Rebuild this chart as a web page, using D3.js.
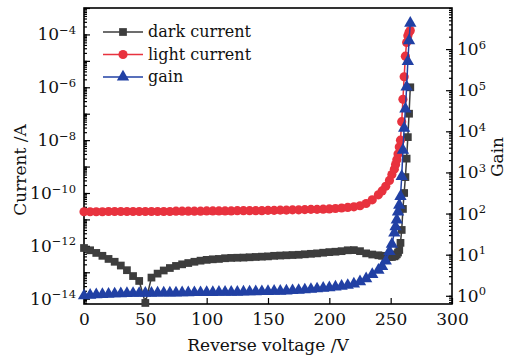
<!DOCTYPE html>
<html>
<head>
<meta charset="utf-8">
<script src="https://cdn.jsdelivr.net/npm/d3@7"></script>
<style>
  body { margin: 0; background: #fff; }
  svg { display: block; font-family: "DejaVu Serif", serif; }
</style>
</head>
<body>
<div id="my_dataviz"></div>
<script>
// reverse voltage (V)
var voltage = [0, 5, 10, 15, 20, 25, 30, 35, 40, 45,
  50, 55, 60, 65, 70, 75, 80, 85, 90, 95,
  100, 105, 110, 115, 120, 125, 130, 135, 140, 145,
  150, 155, 160, 165, 170, 175, 180, 185, 190, 195,
  200, 205, 210, 215, 220, 225, 230, 235, 240,
  243, 246, 249, 251, 253, 254, 255, 256, 257, 258, 259, 260, 261, 262, 263, 264, 265, 266];

// dark current (A)
var darkCurrent = [8.3e-13, 6.8e-13, 5.4e-13, 4.2e-13, 3.2e-13, 2.5e-13, 1.8e-13, 1.2e-13, 7.2e-14, 4.7e-14,
  6.9e-15, 6.3e-14, 8.9e-14, 1.17e-13, 1.45e-13, 1.74e-13, 2.0e-13, 2.24e-13, 2.5e-13, 2.75e-13,
  2.95e-13, 3.1e-13, 3.2e-13, 3.4e-13, 3.5e-13, 3.55e-13, 3.6e-13, 3.7e-13, 3.8e-13, 3.9e-13,
  4.0e-13, 4.2e-13, 4.3e-13, 4.4e-13, 4.5e-13, 4.6e-13, 4.8e-13, 5.0e-13, 5.2e-13, 5.5e-13,
  5.8e-13, 6.0e-13, 6.3e-13, 6.8e-13, 6.9e-13, 6.3e-13, 5.2e-13, 4.7e-13, 4.4e-13,
  4.2e-13, 3.9e-13, 3.8e-13, 3.8e-13, 4.0e-13, 4.3e-13, 4.8e-13, 5.6e-13, 7.0e-13, 1.3e-12, 4.0e-12,
  2.5e-11, 1.0e-10, 4.0e-10, 2.0e-9, 1.3e-8, 1.0e-7, 1.0e-6];

// light current (A)
var lightCurrent = [1.95e-11, 1.95e-11, 1.95e-11, 1.95e-11, 2.0e-11, 2.0e-11, 2.0e-11, 2.0e-11, 2.0e-11, 2.0e-11,
  2.0e-11, 2.0e-11, 2.0e-11, 2.0e-11, 2.0e-11, 2.05e-11, 2.05e-11, 2.05e-11, 2.05e-11, 2.05e-11,
  2.1e-11, 2.1e-11, 2.1e-11, 2.1e-11, 2.1e-11, 2.15e-11, 2.15e-11, 2.15e-11, 2.15e-11, 2.15e-11,
  2.2e-11, 2.2e-11, 2.25e-11, 2.25e-11, 2.3e-11, 2.3e-11, 2.35e-11, 2.4e-11, 2.4e-11, 2.45e-11,
  2.5e-11, 2.6e-11, 2.7e-11, 2.85e-11, 3.0e-11, 3.3e-11, 4.0e-11, 5.5e-11, 8.5e-11,
  1.2e-10, 1.8e-10, 3.0e-10, 5.0e-10, 8.0e-10, 1.2e-9, 1.8e-9, 3.0e-9, 5.5e-9, 1.0e-8, 5.0e-8,
  3.5e-7, 2.5e-6, 1.5e-5, 5.0e-5, 9.0e-5, 1.2e-4, 1.4e-4];

// gain
var gain = [1.0, 1.03, 1.06, 1.08, 1.1, 1.12, 1.13, 1.14, 1.15, 1.15,
  1.16, 1.16, 1.17, 1.17, 1.18, 1.18, 1.19, 1.19, 1.2, 1.2,
  1.21, 1.21, 1.22, 1.22, 1.23, 1.23, 1.24, 1.25, 1.26, 1.27,
  1.28, 1.29, 1.3, 1.32, 1.34, 1.36, 1.4, 1.44, 1.48, 1.53,
  1.58, 1.65, 1.72, 1.8, 1.95, 2.2, 2.6, 3.3, 4.2,
  5.2, 7.0, 12, 18, 34, 48, 70, 110, 160, 260, 800,
  3.5e3, 1.2e4, 3.5e4, 1.2e5, 5.0e5, 1.6e6, 4.3e6];

var xTicks = [0, 50, 100, 150, 200, 250, 300];
var leftLabelExp = [-14, -12, -10, -8, -6, -4];
var rightLabelExp = [0, 1, 2, 3, 4, 5, 6];
var legendLabels = ["dark current", "light current", "gain"];

var W = 509, H = 359;
var margin = {top: 8, right: 57, bottom: 55, left: 84};
var x0 = margin.left, x1 = W - margin.right, y0 = H - margin.bottom, y1 = margin.top;

var svg = d3.select("#my_dataviz")
  .append("svg")
  .attr("width", W)
  .attr("height", H);

var x = d3.scaleLinear().domain([0, 300]).range([x0, x1]);
var yL = d3.scaleLog().domain([Math.pow(10, -14.2), 1e-3]).range([y0, y1]);
var yR = d3.scaleLog().domain([Math.pow(10, -0.2), 1e7]).range([y0, y1]);

// superscript labels 10^n
function powLabel(sel, labelExp) {
  sel.selectAll(".tick text").each(function(d) {
    var e = Math.round(Math.log10(d));
    var t = d3.select(this).text("");
    if (labelExp.indexOf(e) < 0) return;
    t.append("tspan").text("10");
    t.append("tspan").attr("dy", "-0.55em").attr("font-size", "11.5px")
      .text(e < 0 ? "\u2212" + (-e) : e);
  });
}

function styleAxis(g) {
  g.attr("font-family", null).attr("font-size", "17px");
  g.select(".domain").remove();
  g.selectAll(".tick line").attr("stroke", "#000").attr("stroke-width", 1.2);
  g.selectAll(".tick text").attr("fill", "#111");
}

// left axis: minor + major ticks pointing inward
svg.append("g").attr("transform", "translate(" + x0 + ",0)")
  .call(d3.axisLeft(yL).tickValues(yL.ticks(20)).tickSize(-3).tickFormat(""))
  .call(styleAxis);
var leftMajor = d3.range(-14, -2).map(function(e) { return Math.pow(10, e); });
svg.append("g").attr("transform", "translate(" + x0 + ",0)")
  .call(d3.axisLeft(yL).tickValues(leftMajor).tickSize(-6).tickPadding(8))
  .call(styleAxis)
  .call(powLabel, leftLabelExp);

// right axis
svg.append("g").attr("transform", "translate(" + x1 + ",0)")
  .call(d3.axisRight(yR).tickValues(yR.ticks()).tickSize(-3).tickFormat(""))
  .call(styleAxis);
var rightMajor = rightLabelExp.map(function(e) { return Math.pow(10, e); });
svg.append("g").attr("transform", "translate(" + x1 + ",0)")
  .call(d3.axisRight(yR).tickValues(rightMajor).tickSize(-6).tickPadding(5))
  .call(styleAxis)
  .call(powLabel, rightLabelExp);

// bottom axis
svg.append("g").attr("transform", "translate(0," + y0 + ")")
  .call(d3.axisBottom(x).tickValues(xTicks).tickSize(-6).tickPadding(9))
  .call(styleAxis);

// frame
svg.append("rect")
  .attr("x", x0).attr("y", y1)
  .attr("width", x1 - x0).attr("height", y0 - y1)
  .attr("fill", "none").attr("stroke", "#000").attr("stroke-width", 1.6);

// axis titles
svg.append("text")
  .attr("text-anchor", "middle")
  .attr("x", 268)
  .attr("y", 351)
  .attr("font-size", "17px")
  .attr("fill", "#111")
  .text("Reverse voltage /V");

svg.append("text")
  .attr("text-anchor", "middle")
  .attr("transform", "translate(26,170) rotate(-90)")
  .attr("font-size", "17px")
  .attr("fill", "#111")
  .text("Current /A");

svg.append("text")
  .attr("text-anchor", "middle")
  .attr("transform", "translate(503,157) rotate(-90)")
  .attr("font-size", "17px")
  .attr("fill", "#111")
  .text("Gain");

// series
var series = [
  {name: legendLabels[0], vals: darkCurrent, y: yL, color: "#3d3d3d", sym: d3.symbolSquare, size: 60},
  {name: legendLabels[1], vals: lightCurrent, y: yL, color: "#e8323e", sym: d3.symbolCircle, size: 66},
  {name: legendLabels[2], vals: gain, y: yR, color: "#2140a4", sym: d3.symbolTriangle, size: 66}
];

series.forEach(function(s) {
  var pts = voltage.map(function(v, i) { return [v, s.vals[i]]; });
  var line = d3.line()
    .x(function(d) { return x(d[0]); })
    .y(function(d) { return s.y(d[1]); });
  svg.append("path")
    .datum(pts)
    .attr("d", line)
    .attr("fill", "none")
    .attr("stroke", s.color)
    .attr("stroke-width", 1.5);
  svg.append("g")
    .selectAll("path")
    .data(pts)
    .enter()
    .append("path")
    .attr("d", d3.symbol().type(s.sym).size(s.size))
    .attr("transform", function(d) { return "translate(" + x(d[0]) + "," + s.y(d[1]) + ")"; })
    .attr("fill", s.color);
});

// legend
var legend = svg.append("g").attr("transform", "translate(103,32)");
series.forEach(function(s, i) {
  var g = legend.append("g").attr("transform", "translate(0," + (i * 22.5) + ")");
  g.append("line").attr("x1", 0).attr("x2", 40).attr("y1", 0).attr("y2", 0)
    .attr("stroke", s.color).attr("stroke-width", 1.5);
  g.append("path").attr("d", d3.symbol().type(s.sym).size(s.size))
    .attr("transform", "translate(20,0)").attr("fill", s.color);
  g.append("text").attr("x", 45).attr("y", 0).attr("dy", "0.32em")
    .attr("font-size", "16px")
    .attr("fill", "#111")
    .text(s.name);
});
</script>
</body>
</html>
